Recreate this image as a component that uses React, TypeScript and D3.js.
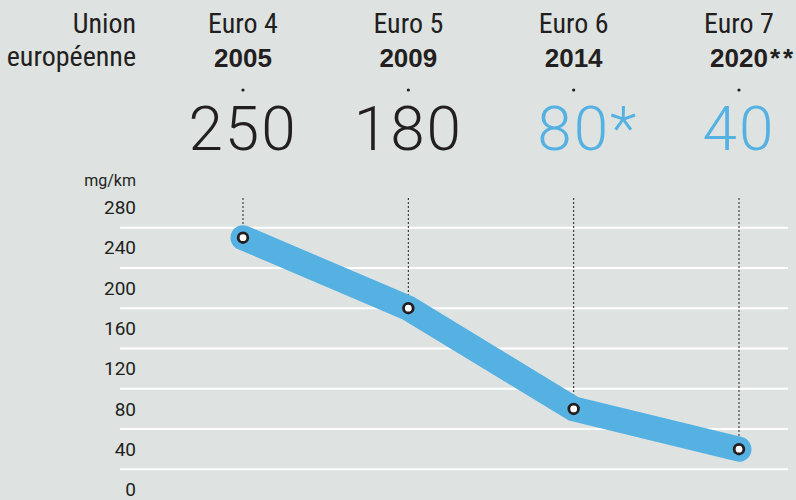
import { useRef, useEffect } from 'react';
import * as d3 from 'd3';

const categories = ['Euro 4', 'Euro 5', 'Euro 6', 'Euro 7'];
const years = ['2005', '2009', '2014', '2020'];
const yearSuffix = ['', '', '', '**'];
const limits = [250, 180, 80, 40];
const limitSuffix = ['', '', '*', ''];
const highlighted = [false, false, true, true];
const yTicks = [0, 40, 80, 120, 160, 200, 240, 280];
const gridValues = [20, 60, 100, 140, 180, 220, 260];
const regionLabel = ['Union', 'européenne'];
const unitLabel = 'mg/km';

const W = 796;
const H = 500;
const BG = '#dee3e1';
const BLUE = '#56b1e3';
const INK = '#231f20';

const App = () => {
    const svgRef = useRef<SVGSVGElement | null>(null);

    const renderChart = () => {
        const svgElement = svgRef.current;
        if (!svgElement) return;
        document.body.style.margin = '0';

        const svg = d3.select(svgElement).attr('width', W).attr('height', H);
        svg.selectAll('*').remove();

        svg.append('rect').attr('width', W).attr('height', H).attr('fill', BG);

        const x = d3.scalePoint<string>().domain(categories).range([243, 739]);
        const y = d3.scaleLinear().domain([0, 280]).range([489.5, 207.5]);

        const narrow = "'Liberation Sans Narrow', 'Roboto Condensed', Roboto, sans-serif";
        const bold = "'Liberation Sans', Arial, sans-serif";

        // left header
        svg.selectAll('text.region')
            .data(regionLabel)
            .join('text')
            .attr('class', 'region')
            .attr('x', 136)
            .attr('y', (_, i) => 33 + i * 33)
            .attr('text-anchor', 'end')
            .style('font-family', narrow)
            .style('font-size', '28px')
            .style('fill', INK)
            .text(d => d);

        // gridlines
        svg.append('g')
            .selectAll('line')
            .data(gridValues)
            .join('line')
            .attr('x1', 120)
            .attr('x2', 788)
            .attr('y1', d => y(d))
            .attr('y2', d => y(d))
            .attr('stroke', '#ffffff')
            .attr('stroke-width', 2);

        // y tick labels
        svg.append('g')
            .selectAll('text')
            .data(yTicks)
            .join('text')
            .attr('x', 136)
            .attr('y', d => y(d))
            .attr('dy', '0.35em')
            .attr('text-anchor', 'end')
            .style('font-family', 'Roboto, sans-serif')
            .style('font-size', '19px')
            .style('fill', INK)
            .text(d => d);

        svg.append('text')
            .attr('x', 136)
            .attr('y', 186)
            .attr('text-anchor', 'end')
            .style('font-family', 'Roboto, sans-serif')
            .style('font-size', '16px')
            .style('fill', INK)
            .text(unitLabel);

        const data = categories.map((c, i) => ({ c, v: limits[i], i }));

        // dotted leaders
        svg.append('g')
            .selectAll('line')
            .data(data)
            .join('line')
            .attr('x1', d => x(d.c)!)
            .attr('x2', d => x(d.c)!)
            .attr('y1', 198)
            .attr('y2', d => y(d.v))
            .attr('stroke', INK)
            .attr('stroke-width', 1)
            .attr('stroke-dasharray', '2,2');

        // thick line
        const line = d3.line<{ c: string; v: number }>()
            .x(d => x(d.c)!)
            .y(d => y(d.v));

        svg.append('path')
            .datum(data)
            .attr('fill', 'none')
            .attr('stroke', BLUE)
            .attr('stroke-width', 25)
            .attr('stroke-linecap', 'round')
            .attr('stroke-linejoin', 'miter')
            .attr('d', line as unknown as string);

        svg.append('g')
            .selectAll('circle')
            .data(data)
            .join('circle')
            .attr('cx', d => x(d.c)!)
            .attr('cy', d => y(d.v))
            .attr('r', 4.8)
            .attr('fill', '#ffffff')
            .attr('stroke', INK)
            .attr('stroke-width', 2.8);

        // column headers
        const head = svg.append('g');
        data.forEach(d => {
            const cx = x(d.c)!;
            head.append('text')
                .attr('x', cx)
                .attr('y', 33)
                .attr('text-anchor', 'middle')
                .style('font-family', narrow)
                .style('font-size', '28px')
                .style('fill', INK)
                .text(d.c);

            const yr = head.append('text')
                .attr('x', cx)
                .attr('y', 67)
                .attr('text-anchor', 'middle')
                .style('font-family', bold)
                .style('font-weight', 'bold')
                .style('font-size', '26px')
                .style('fill', INK)
                .text(years[d.i]);
            if (yearSuffix[d.i]) {
                const w = (yr.node() as SVGTextElement).getComputedTextLength();
                head.append('text')
                    .attr('x', cx + w / 2 + 2)
                    .attr('y', 67)
                    .style('font-family', bold)
                    .style('font-weight', 'bold')
                    .style('font-size', '26px')
                    .style('letter-spacing', '3px')
                    .style('fill', INK)
                    .text(yearSuffix[d.i]);
            }

            head.append('circle')
                .attr('cx', cx)
                .attr('cy', 90)
                .attr('r', 1.6)
                .attr('fill', INK);

            const color = highlighted[d.i] ? BLUE : INK;
            const num = head.append('text')
                .attr('x', cx)
                .attr('y', 150)
                .attr('text-anchor', 'middle')
                .style('font-family', 'Roboto, sans-serif')
                .style('font-weight', 300)
                .style('font-size', '62px')
                .style('letter-spacing', '2px')
                .style('fill', color)
                .text(d.v);
            if (limitSuffix[d.i]) {
                const w = (num.node() as SVGTextElement).getComputedTextLength();
                head.append('text')
                    .attr('x', cx + w / 2)
                    .attr('y', 150)
                    .style('font-family', 'Roboto, sans-serif')
                    .style('font-weight', 300)
                    .style('font-size', '62px')
                    .style('fill', color)
                    .text(limitSuffix[d.i]);
            }
        });
    };

    useEffect(() => {
        renderChart();
    }, []);

    return (
        <div style={{ width: W, height: H }}>
            <svg ref={svgRef} style={{ display: 'block' }}></svg>
        </div>
    );
};

export default App;
